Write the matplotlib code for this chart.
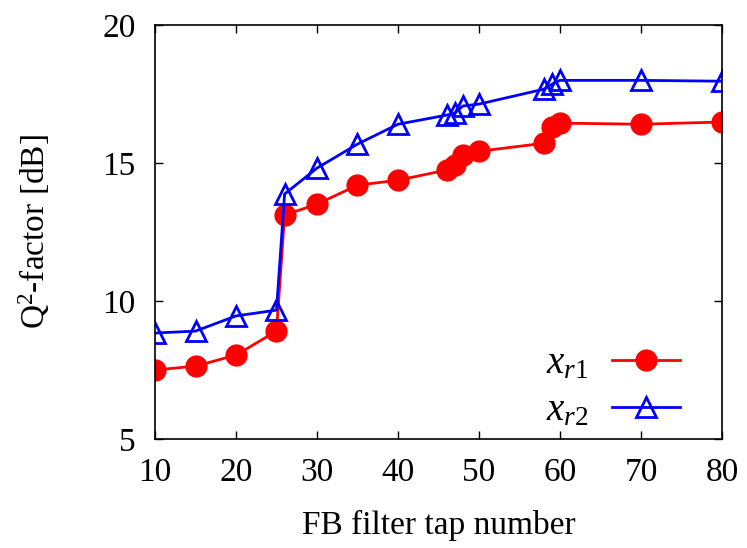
import numpy as np
import matplotlib
matplotlib.use("Agg")
import matplotlib.pyplot as plt

# data
taps = [10, 15, 20, 25, 26, 30, 35, 40, 46, 47, 48, 50, 58, 59, 60, 70, 80]
q_xr1 = [7.50, 7.64, 8.04, 8.91, 13.12, 13.51, 14.20, 14.38, 14.75, 14.93,
         15.29, 15.43, 15.72, 16.30, 16.45, 16.41, 16.49]
q_xr2 = [8.84, 8.91, 9.46, 9.67, 13.88, 14.82, 15.69, 16.41, 16.74, 16.81,
         17.07, 17.14, 17.68, 17.86, 18.00, 18.00, 17.97]

xticks = [10, 20, 30, 40, 50, 60, 70, 80]
yticks = [5, 10, 15, 20]

plt.rcParams['font.family'] = ['Liberation Serif', 'DejaVu Serif']
plt.rcParams['mathtext.fontset'] = 'custom'
plt.rcParams['mathtext.rm'] = 'Liberation Serif'
plt.rcParams['mathtext.it'] = 'Liberation Serif:italic'
plt.rcParams['font.size'] = 24

fig = plt.figure(figsize=(7.47, 5.48), dpi=100)
ax = fig.add_axes([0.2075, 0.199, 0.759, 0.755])

ax.plot(taps, q_xr1, color='#ff0000', lw=2.0, marker='o', markersize=15,
        label='$x_{r1}$')
ax.plot(taps, q_xr2, color='#0000ff', lw=2.0, marker='^', markersize=15,
        markerfacecolor='none', markeredgewidth=2.0, label='$x_{r2}$')

ax.set_xlim(10, 80)
ax.set_ylim(5, 20)
ax.set_xticks(xticks)
ax.set_yticks(yticks)
ax.tick_params(direction='in', length=6, width=1, top=True, right=True,
               labelsize=24)
ax.tick_params(axis='x', pad=13)
ax.tick_params(axis='y', pad=14)
for s in ax.spines.values():
    s.set_linewidth(1.2)

ax.set_xlabel('FB filter tap number', fontsize=24, labelpad=16)
ax.set_ylabel('Q$^2$-factor [dB]', fontsize=24, labelpad=36)

ax.legend(loc='lower right', frameon=False, markerfirst=False,
          handlelength=1.77, handletextpad=0.6, fontsize=28,
          labelspacing=0.25, borderaxespad=0,
          bbox_to_anchor=(0.9317, 0.188), bbox_transform=fig.transFigure)

fig.savefig('out.png', dpi=100)
